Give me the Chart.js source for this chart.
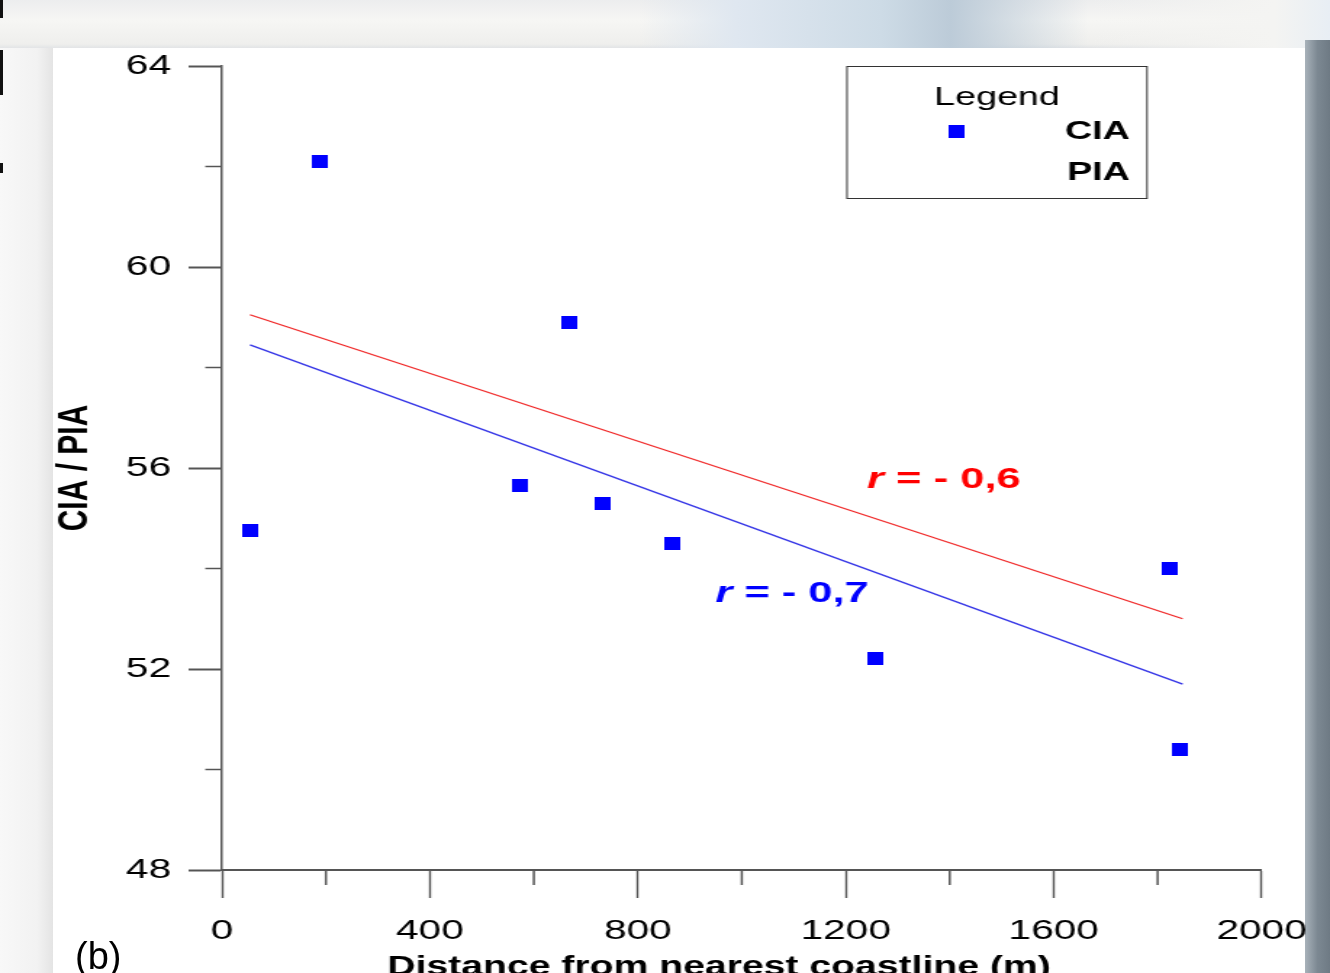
<!DOCTYPE html>
<html>
<head>
<meta charset="utf-8">
<script src="https://cdn.jsdelivr.net/npm/chart.js@4.4.1/dist/chart.umd.min.js"></script>
<style>
  html, body { margin: 0; padding: 0; overflow: hidden; }
  body {
    width: 1330px; height: 973px; position: relative;
    background: linear-gradient(to bottom, #ecedee 0px, #f6f6f4 20px, #efefed 44px, #e2e4e6 48px);
  }
  #topband {
    position: absolute; left: 640px; top: 0; width: 690px; height: 48px;
    background: linear-gradient(to right, rgba(220,230,240,0) 0%, #dfe7f0 14%, #cddbe6 35%, #bccbd8 45%, rgba(240,242,244,0) 65%, #f4f4f2 92%, #e8eef4 100%);
  }
  #leftband {
    position: absolute; left: 0; top: 48px; width: 53px; height: 925px;
    background: linear-gradient(to right, #f8f8f8 0%, #f2f2f2 70%, #e4e4e4 100%);
  }
  #rightband {
    position: absolute; left: 1305px; top: 40px; width: 25px; height: 933px;
    background: linear-gradient(to right, #a8b2ba 0%, #7c8892 50%, #6e7a84 100%);
  }
  #panel { position: absolute; left: 53px; top: 48px; width: 1252px; height: 925px; background: #fff; }
  .mark { position: absolute; left: 0; width: 3px; background: #111; }
  #chart { position: absolute; left: 0; top: 0; }
  #tag { position: absolute; left: 75px; top: 935px; font: 38px "Liberation Sans", Arial, sans-serif; color: #000; }
</style>
</head>
<body>
<div id="topband"></div>
<div id="leftband"></div>
<div id="rightband"></div>
<div id="panel"></div>
<div class="mark" style="top:0;height:18px"></div>
<div class="mark" style="top:50px;height:45px"></div>
<div class="mark" style="top:163px;height:10px"></div>
<canvas id="chart" width="917" height="973" style="width:1330px;height:973px"></canvas>
<div id="tag">(b)</div>
<script>
// CIA samples: distance from coastline (m) vs CIA
const distances = [54, 188, 574, 667, 732, 865, 1256, 1823, 1844];
const ciaValues = [54.75, 62.1, 55.66, 58.9, 55.3, 54.5, 52.2, 54.0, 50.4];

// fitted lines, end points
const fitX = [54, 1848];
const fitPIA = [59.05, 53.0];   // red, r = -0.6
const fitCIA = [58.45, 51.7];   // blue, r = -0.7

const xTicks = [0, 400, 800, 1200, 1600, 2000];
const yTicks = [48, 52, 56, 60, 64];

const FONT = '"Liberation Sans", Arial, sans-serif';

// the whole picture is stretched sideways, so the canvas is drawn narrower
const SX = 1330 / 917;

// blue marker, slightly wider than tall once stretched
const marker = document.createElement('canvas');
marker.width = 11; marker.height = 13;
(function() {
  const c = marker.getContext('2d');
  c.fillStyle = '#0000ff';
  c.fillRect(0, 0, 11, 13);
})();

const extras = {
  id: 'extras',
  afterDraw(chart) {
    const ctx = chart.ctx;
    const xs = chart.scales.x, ys = chart.scales.y;
    ctx.save();

    // minor ticks
    ctx.strokeStyle = '#555';
    ctx.lineWidth = 1.5;
    ys.ticks.forEach(t => {
      if (yTicks.includes(t.value)) return;
      const py = ys.getPixelForValue(t.value);
      ctx.beginPath(); ctx.moveTo(xs.left - 11.5, py); ctx.lineTo(xs.left, py); ctx.stroke();
    });
    xs.ticks.forEach(t => {
      if (xTicks.includes(t.value)) return;
      const px = xs.getPixelForValue(t.value);
      ctx.beginPath(); ctx.moveTo(px, ys.bottom); ctx.lineTo(px, ys.bottom + 15); ctx.stroke();
    });

    // r annotations
    ctx.textBaseline = 'middle';
    ctx.textAlign = 'left';
    const note = (x, y, txt, col) => {
      let px = xs.getPixelForValue(x);
      const py = ys.getPixelForValue(y);
      ctx.fillStyle = col;
      ctx.font = 'italic bold 30px ' + FONT;
      ctx.fillText('r', px, py);
      px += ctx.measureText('r').width;
      ctx.font = 'bold 30px ' + FONT;
      ctx.fillText(txt, px, py);
    };
    note(1241, 55.76, ' = - 0,6', '#ff0000');
    note(949, 53.49, ' = - 0,7', '#0000ff');

    // x axis title
    ctx.fillStyle = '#000';
    ctx.font = 'bold 27px ' + FONT;
    ctx.textAlign = 'center';
    ctx.fillText('Distance from nearest coastline (m)', 719 / SX, 968);

    // legend box
    const lx = 847 / SX, lw = 300 / SX;
    ctx.strokeStyle = '#333';
    ctx.lineWidth = 1;
    ctx.strokeRect(lx, 66.5, lw, 132);
    ctx.font = '26px ' + FONT;
    ctx.fillText('Legend', 997 / SX, 98);
    ctx.drawImage(marker, 956 / SX - 5.5, 131 - 6.5);
    ctx.textAlign = 'right';
    ctx.font = 'bold 26px ' + FONT;
    ctx.fillText('CIA', 1130 / SX, 132);
    ctx.fillText('PIA', 1130 / SX, 173);

    ctx.restore();
  }
};

new Chart(document.getElementById('chart'), {
  type: 'scatter',
  data: {
    datasets: [
      {
        label: 'CIA',
        data: distances.map((d, i) => ({ x: d, y: ciaValues[i] })),
        pointStyle: marker,
        pointRadius: 7,
        pointHoverRadius: 7
      },
      {
        type: 'line',
        label: 'PIA fit',
        data: fitX.map((d, i) => ({ x: d, y: fitPIA[i] })),
        borderColor: '#f02828',
        borderWidth: 1.3,
        pointRadius: 0,
        fill: false
      },
      {
        type: 'line',
        label: 'CIA fit',
        data: fitX.map((d, i) => ({ x: d, y: fitCIA[i] })),
        borderColor: '#3535e6',
        borderWidth: 1.3,
        pointRadius: 0,
        fill: false
      }
    ]
  },
  options: {
    responsive: false,
    animation: false,
    devicePixelRatio: 1,
    layout: { padding: { left: 30, top: 66, right: 46, bottom: 0 } },
    plugins: { legend: { display: false }, tooltip: { enabled: false } },
    scales: {
      x: {
        type: 'linear',
        min: 0, max: 2000,
        afterFit: s => { s.height = 103; },
        ticks: {
          stepSize: 200,
          padding: 16,
          color: '#000',
          font: { family: FONT, size: 28 },
          callback: v => xTicks.includes(v) ? v : ''
        },
        grid: {
          drawOnChartArea: false,
          tickLength: 28,
          tickWidth: 1.4,
          tickColor: c => xTicks.includes(c.tick.value) ? '#555' : 'rgba(0,0,0,0)'
        },
        border: { color: '#555', width: 2 }
      },
      y: {
        type: 'linear',
        min: 48, max: 64,
        afterFit: s => { s.width = 123; },
        ticks: {
          stepSize: 2,
          padding: 12,
          color: '#000',
          font: { family: FONT, size: 28 },
          callback: v => yTicks.includes(v) ? v : ''
        },
        grid: {
          drawOnChartArea: false,
          tickLength: 23,
          tickWidth: 2,
          tickColor: c => yTicks.includes(c.tick.value) ? '#555' : 'rgba(0,0,0,0)'
        },
        border: { color: '#555', width: 1.5 },
        title: {
          display: true,
          text: 'CIA / PIA',
          color: '#000',
          font: { family: FONT, size: 30, weight: 'bold' },
          padding: { top: 4, bottom: 0 }
        }
      }
    }
  },
  plugins: [extras]
});
</script>
</body>
</html>
